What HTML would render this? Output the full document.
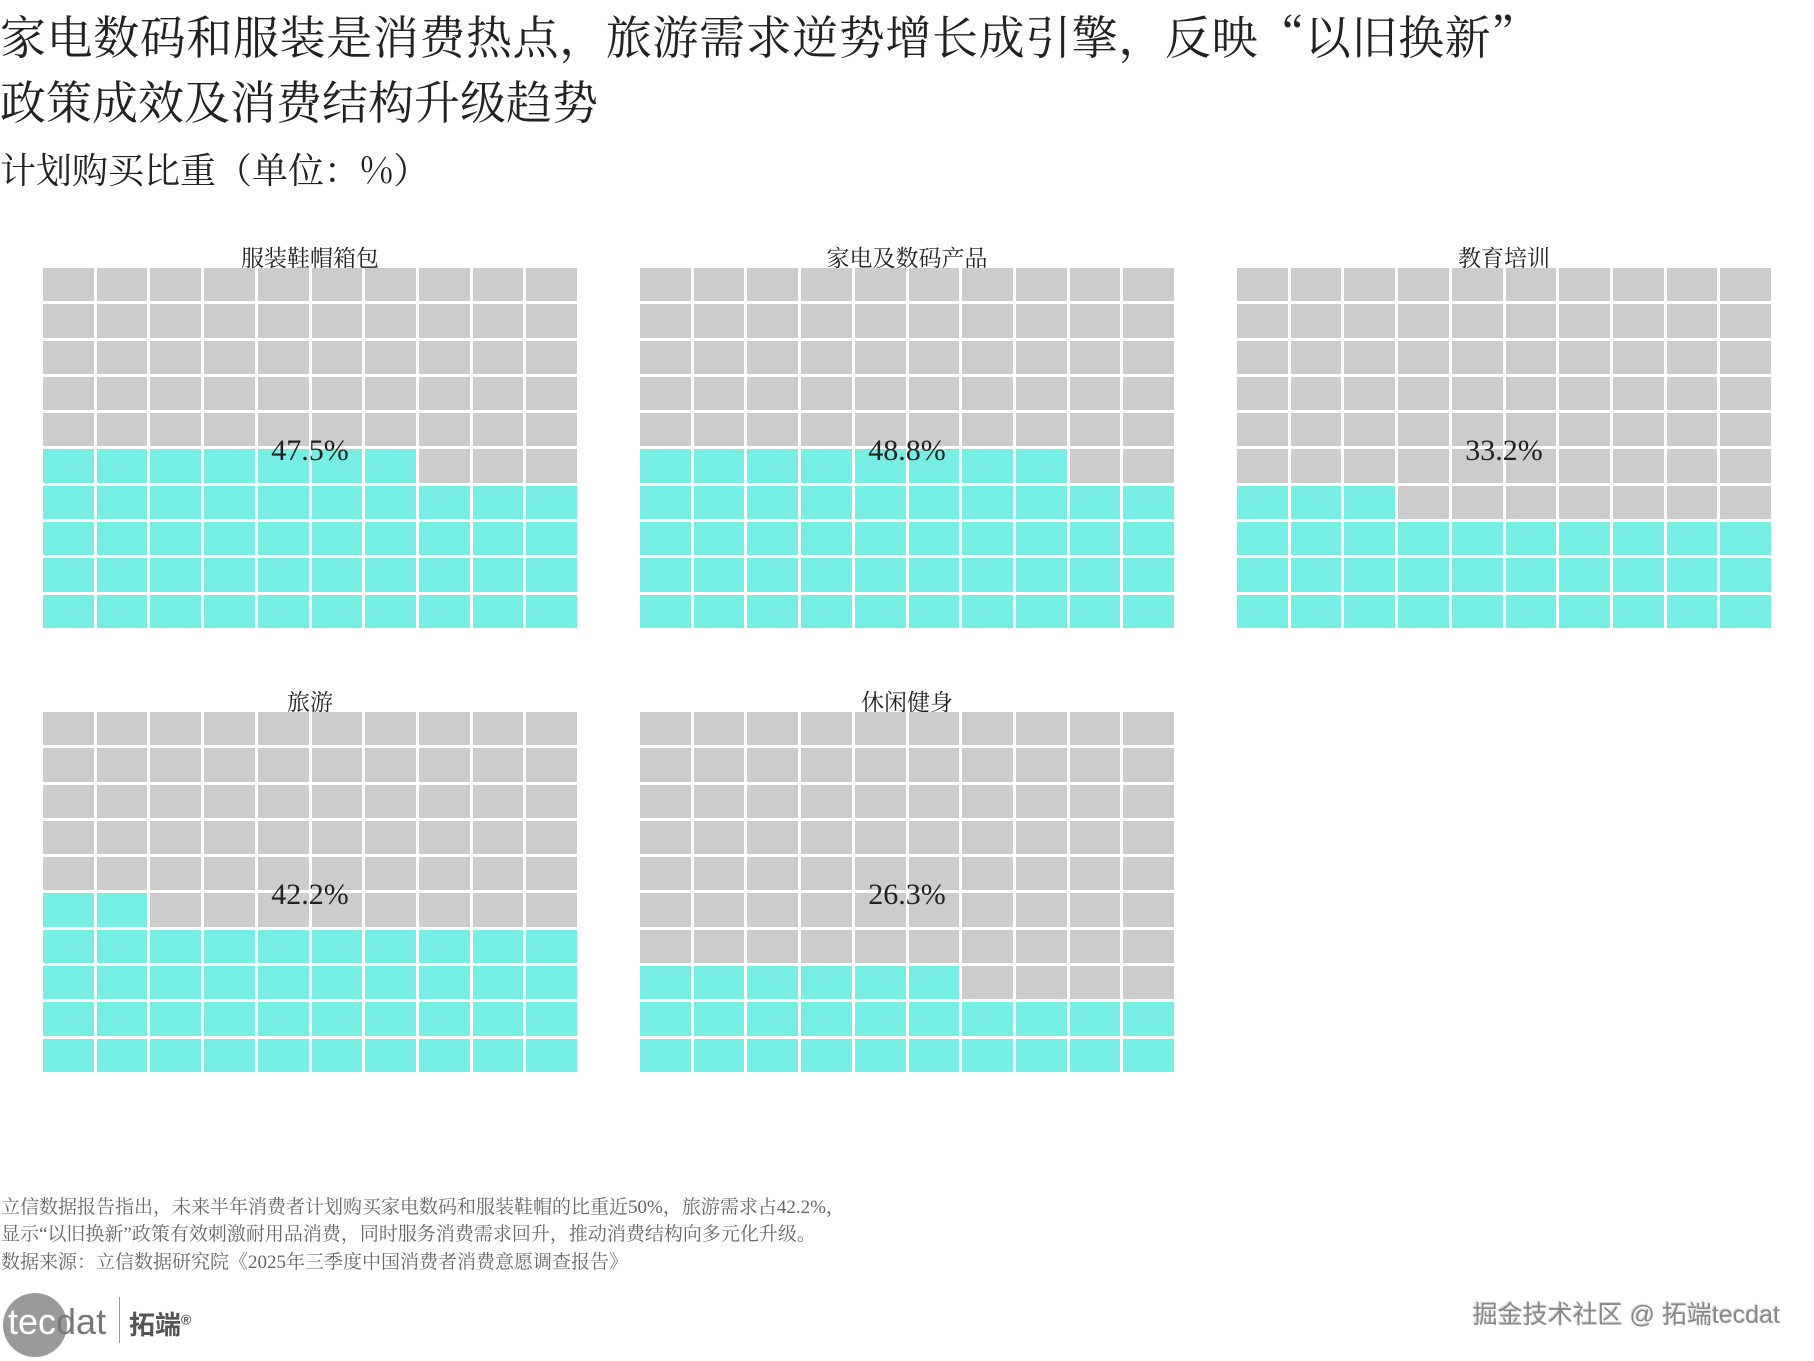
<!DOCTYPE html>
<html><head><meta charset="utf-8">
<style>
body{margin:0;width:1814px;height:1361px;background:#fff;position:relative;overflow:hidden;font-family:"Liberation Serif","Noto Serif CJK SC",serif;color:#222}
.t{position:absolute;white-space:nowrap}
.g{position:absolute;width:534px;height:360px;display:grid;grid-template-columns:repeat(10,1fr);grid-template-rows:repeat(10,1fr);gap:3px}
.g div{background:#cccccc}
.g div.f{background:#76EEE4}
.pt{position:absolute;width:534px;text-align:center;font-size:23px;color:#222}
.pc{position:absolute;width:534px;text-align:center;font-size:30px;color:#222}
</style></head><body>
<div class="t" style="left:0px;top:2px;font-size:46px;font-family:'Noto Serif CJK SC',serif;letter-spacing:0.6px">家电数码和服装是消费热点，旅游需求逆势增长成引擎，反映“以旧换新”</div>
<div class="t" style="left:0px;top:67px;font-size:46px;font-family:'Noto Serif CJK SC',serif">政策成效及消费结构升级趋势</div>
<div class="t" style="left:0px;top:143px;font-size:36px;font-family:'Noto Serif CJK SC',serif">计划购买比重（单位：%）</div>
<div id="c"></div>
<div class="t" style="left:1px;top:1192px;font-size:19px;color:#666">立信数据报告指出，未来半年消费者计划购买家电数码和服装鞋帽的比重近50%，旅游需求占42.2%，</div>
<div class="t" style="left:1px;top:1219px;font-size:19px;color:#666">显示“以旧换新”政策有效刺激耐用品消费，同时服务消费需求回升，推动消费结构向多元化升级。</div>
<div class="t" style="left:1px;top:1247px;font-size:19px;color:#666">数据来源：立信数据研究院《2025年三季度中国消费者消费意愿调查报告》</div>
<div style="position:absolute;left:3px;top:1293px;width:64px;height:64px;border-radius:50%;background:#9a9a9a"></div>
<div class="t" style="left:8px;top:1301px;font-size:36px;font-family:'Liberation Sans',sans-serif;color:#fff">tec<span style="color:#777">dat</span></div>
<div style="position:absolute;left:119px;top:1297px;width:1px;height:46px;background:#999"></div>
<div class="t" style="left:129px;top:1305px;font-size:26px;font-weight:bold;font-family:'Liberation Sans','Noto Sans CJK SC',sans-serif;color:#555">拓端<sup style="font-size:14px">®</sup></div>
<div class="t" style="right:34px;top:1295px;font-size:25px;font-family:'Liberation Sans','Noto Sans CJK SC',sans-serif;color:#888;text-shadow:1px 1px 1px #fff,-1px -1px 1px #ccc">掘金技术社区 @ 拓端tecdat</div>
<script>
var P=[["服装鞋帽箱包",47.5,43,268],["家电及数码产品",48.8,640,268],["教育培训",33.2,1237,268],["旅游",42.2,43,712],["休闲健身",26.3,640,712]];
var h="";
P.forEach(function(p){
 var n=Math.floor(p[1]);
 h+='<div class="pt" style="left:'+p[2]+'px;top:'+(p[3]-28)+'px">'+p[0]+'</div>';
 h+='<div class="g" style="left:'+p[2]+'px;top:'+p[3]+'px">';
 for(var r=0;r<10;r++)for(var c=0;c<10;c++){var idx=(9-r)*10+c;h+='<div'+(idx<n?' class="f"':'')+'></div>';}
 h+='</div>';
 h+='<div class="pc" style="left:'+p[2]+'px;top:'+(p[3]+166)+'px">'+p[1].toFixed(1)+'%</div>';
});
document.getElementById("c").innerHTML=h;
</script>
</body></html>
